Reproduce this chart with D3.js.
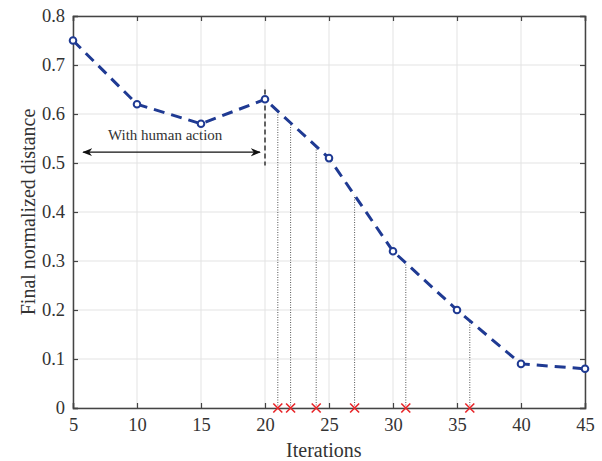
<!DOCTYPE html>
<html>
<head>
<meta charset="utf-8">
<script src="https://cdn.jsdelivr.net/npm/d3@7"></script>
<style>
  body { margin: 0; background: #fff; }
  text { font-family: "Liberation Serif", "DejaVu Serif", serif; fill: #333; }
</style>
</head>
<body>
<svg id="chart" width="602" height="461"></svg>
<script>
// iterations and final normalized distance
let iterations = [5, 10, 15, 20, 25, 30, 35, 40, 45]
let distances = [0.75, 0.62, 0.58, 0.63, 0.51, 0.32, 0.20, 0.09, 0.08]
// iterations where human action happened (red crosses)
let actionIters = [21, 22, 24, 27, 31, 36]
let xTicks = [5, 10, 15, 20, 25, 30, 35, 40, 45]
let yTicks = [0, 0.1, 0.2, 0.3, 0.4, 0.5, 0.6, 0.7, 0.8]

let svg = d3.select('#chart')
let margin = {left: 73, right: 17, top: 16, bottom: 53}
let w = 602 - margin.left - margin.right
let h = 461 - margin.top - margin.bottom

let x = d3.scaleLinear().domain([5, 45]).range([0, w])
let y = d3.scaleLinear().domain([0, 0.8]).range([h, 0])

let g = svg.append('g').attr('transform', 'translate(' + margin.left + ',' + margin.top + ')')

// grid
g.selectAll('.gx').data(xTicks).enter().append('line')
  .attr('x1', d => x(d)).attr('x2', d => x(d)).attr('y1', 0).attr('y2', h)
  .attr('stroke', '#e3e3e3').attr('stroke-width', 1)
g.selectAll('.gy').data(yTicks).enter().append('line')
  .attr('y1', d => y(d)).attr('y2', d => y(d)).attr('x1', 0).attr('x2', w)
  .attr('stroke', '#e3e3e3').attr('stroke-width', 1)

// axes (ticks inside)
let xAxis = g.append('g').attr('transform', 'translate(0,' + h + ')')
  .call(d3.axisBottom(x).tickValues(xTicks).tickSize(-5).tickPadding(10).tickFormat(d3.format('d')))
let yAxis = g.append('g')
  .call(d3.axisLeft(y).tickValues(yTicks).tickSize(-5).tickPadding(8).tickFormat(d => d === 0 ? '0' : d3.format('.1f')(d)))
let xTop = g.append('g').call(d3.axisTop(x).tickValues(xTicks).tickSize(-5).tickFormat(''))
let yRight = g.append('g').attr('transform', 'translate(' + w + ',0)')
  .call(d3.axisRight(y).tickValues(yTicks).tickSize(-5).tickFormat(''))

;[xAxis, yAxis, xTop, yRight].forEach(a => {
  a.select('.domain').attr('stroke', '#444').attr('stroke-width', 1.5)
  a.selectAll('.tick line').attr('stroke', '#444').attr('stroke-width', 1.2)
  a.selectAll('.tick text').style('font-size', '18.5px').style('font-family', '"Liberation Serif", serif').attr('fill', '#3a3a3a')
})

// interpolation along the curve
let interp = it => {
  let i = d3.bisectRight(iterations, it) - 1
  let t = (it - iterations[i]) / (iterations[i + 1] - iterations[i])
  return distances[i] + t * (distances[i + 1] - distances[i])
}

// dotted verticals for human actions
g.selectAll('.drop').data(actionIters).enter().append('line')
  .attr('x1', d => x(d)).attr('x2', d => x(d))
  .attr('y1', h).attr('y2', d => y(interp(d)))
  .attr('stroke', '#555').attr('stroke-width', 1).attr('stroke-dasharray', '1,1.5')

// dashed black vertical at 20
g.append('line')
  .attr('x1', x(20)).attr('x2', x(20)).attr('y1', y(0.65)).attr('y2', y(0.495))
  .attr('stroke', '#333').attr('stroke-width', 1.5).attr('stroke-dasharray', '5,3')

// main dashed line
let pts = iterations.map((it, i) => [it, distances[i]])
g.append('path')
  .attr('d', d3.line().x(d => x(d[0])).y(d => y(d[1]))(pts))
  .attr('fill', 'none').attr('stroke', '#1f3a93').attr('stroke-width', 3)
  .attr('stroke-dasharray', '11,7')

g.selectAll('.pt').data(pts).enter().append('circle')
  .attr('cx', d => x(d[0])).attr('cy', d => y(d[1])).attr('r', 3.3)
  .attr('fill', '#fff').attr('stroke', '#1f3a93').attr('stroke-width', 2)

// red crosses
let cs = 4.5
g.selectAll('.cross').data(actionIters).enter().append('path')
  .attr('d', d => {
    let cx = x(d), cy = h
    return 'M' + (cx - cs) + ',' + (cy - cs) + 'L' + (cx + cs) + ',' + (cy + cs) +
           'M' + (cx - cs) + ',' + (cy + cs) + 'L' + (cx + cs) + ',' + (cy - cs)
  })
  .attr('stroke', '#e8262a').attr('stroke-width', 1.6).attr('fill', 'none')

// double arrow "With human action"
svg.append('defs').append('marker')
  .attr('id', 'ah').attr('viewBox', '0 0 10 10').attr('refX', 9).attr('refY', 5)
  .attr('markerWidth', 10).attr('markerHeight', 10).attr('markerUnits', 'userSpaceOnUse')
  .attr('orient', 'auto-start-reverse')
  .append('path').attr('d', 'M0,1 L10,5 L0,9 L3,5 Z').attr('fill', '#111')
g.append('line')
  .attr('x1', x(5.8)).attr('x2', x(19.6)).attr('y1', y(0.522)).attr('y2', y(0.522))
  .attr('stroke', '#111').attr('stroke-width', 1.3)
  .attr('marker-start', 'url(#ah)').attr('marker-end', 'url(#ah)')
g.append('text')
  .attr('x', x(12.2)).attr('y', y(0.522) - 12)
  .attr('text-anchor', 'middle').style('font-size', '15px').attr('fill', '#111')
  .text('With human action')

// axis titles
svg.append('text')
  .attr('x', margin.left + x(24.6)).attr('y', 457)
  .attr('text-anchor', 'middle').style('font-size', '20px')
  .text('Iterations')
svg.append('text')
  .attr('transform', 'translate(35,' + (margin.top + y(0.4)) + ') rotate(-90)')
  .attr('text-anchor', 'middle').style('font-size', '20px')
  .text('Final normalized distance')
</script>
</body>
</html>
